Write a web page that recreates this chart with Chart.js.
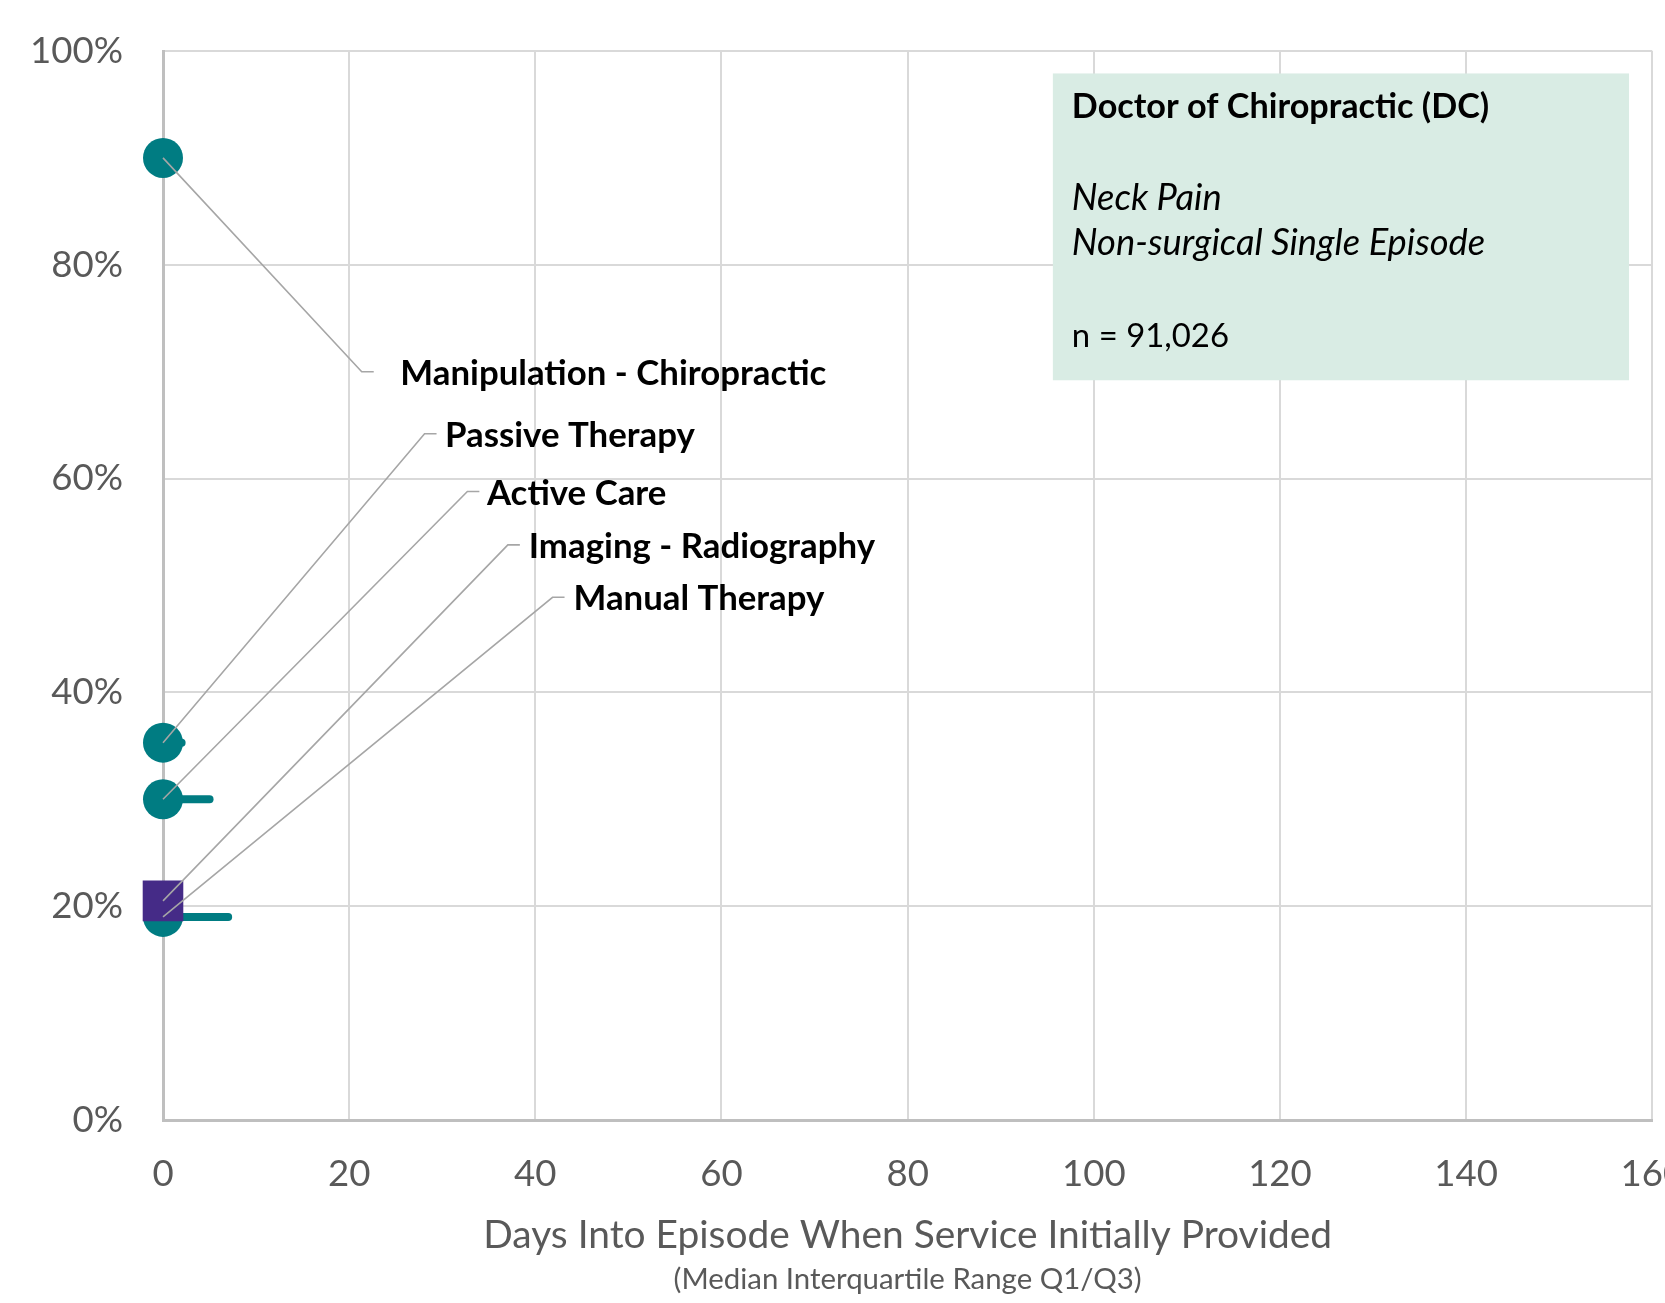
<!DOCTYPE html>
<html>
<head>
<meta charset="utf-8">
<script src="https://cdn.jsdelivr.net/npm/chart.js@4.4.1/dist/chart.umd.min.js"></script>
<style>
  html, body { margin: 0; padding: 0; background: #fff; overflow: hidden; }
  /* a bit wider than the window so the last x label is cut off like the original */
  #wrap { width: 1681px; height: 1303px; position: relative; }
</style>
</head>
<body>
<div id="wrap"><canvas id="chart"></canvas></div>
<script>
// services, top label to bottom label
const services = ['Manipulation - Chiropractic', 'Passive Therapy', 'Active Care', 'Imaging - Radiography', 'Manual Therapy'];
// % of episodes using the service
const pctUsing = [90, 35.3, 30, 20.5, 19];
// days into episode when first provided (median, Q1, Q3)
const medianDay = [0, 0, 0, 0, 0];
const q1Day = [0, 0, 0, 0, 0];
const q3Day = [0, 2, 5, 0, 7];
const markerShape = ['circle', 'circle', 'circle', 'rect', 'circle'];

const xTicks = [0, 20, 40, 60, 80, 100, 120, 140, 160];
const yTicks = [0, 20, 40, 60, 80, 100];

// callouts: leader elbow and text start, in data units
const calloutX = [21.35, 28.1, 32.7, 37.05, 41.85];
const calloutY = [70.0, 64.2, 58.8, 53.8, 48.9];
const calloutTextX = [25.5, 30.3, 34.8, 39.3, 44.1];

const boxTitle = 'Doctor of Chiropractic (DC)';
const boxLines = ['Neck Pain', 'Non-surgical Single Episode'];
const boxCount = 'n = 91,026';
const xTitle = 'Days Into Episode When Service Initially Provided';
const xSubtitle = '(Median Interquartile Range Q1/Q3)';

const TEAL = '#007c82';
const PURPLE = '#452b87';
const GREY_TEXT = '#595959';
const FONT = 'Lato';

// pick font sizes so text widths match the original
const mctx = document.createElement('canvas').getContext('2d');
function fitSize(text, style, target) {
  mctx.font = style + ' 100px ' + FONT;
  return Math.round(1000 * target / mctx.measureText(text).width) / 10;
}
const tickSize = fitSize('100%', '', 93);
const titleSize = fitSize(xTitle, '', 850);
const subSize = fitSize(xSubtitle, '', 469);
const calloutSize = fitSize(services[0], 'bold', 426);
const boxBoldSize = fitSize(boxTitle, 'bold', 417);
const boxItalicSize = fitSize(boxLines[1], 'italic', 413);
const boxPlainSize = fitSize(boxCount, '', 157);

const H = 1303, PLOT_BOTTOM = 1120;
const subPadB = H - 1280 - 0.6 * subSize;
const subH = 1.2 * subSize + subPadB;
const titlePadB = (H - subH) - 1235 - 0.6 * titleSize;
const xTickPad = 1174 - PLOT_BOTTOM - 0.6 * tickSize;

// datasets
const iqrSets = [];
services.forEach((s, i) => {
  if (q3Day[i] > q1Day[i]) {
    iqrSets.push({
      label: s + ' IQR',
      data: [{ x: q1Day[i], y: pctUsing[i] }, { x: q3Day[i], y: pctUsing[i] }],
      showLine: true,
      borderColor: TEAL,
      borderWidth: 8,
      borderCapStyle: 'round',
      pointRadius: 0,
      clip: false,
      order: 3
    });
  }
});
const pts = shape => services.map((s, i) => i).filter(i => markerShape[i] === shape)
  .map(i => ({ x: medianDay[i], y: pctUsing[i] }));

const circleSet = {
  label: 'circle', data: pts('circle'), pointStyle: 'circle', pointRadius: 20,
  backgroundColor: TEAL, borderWidth: 0, clip: false, order: 2
};
const squareSet = {
  label: 'rect', data: pts('rect'), pointStyle: 'rect', pointRadius: 28.7,
  backgroundColor: PURPLE, borderWidth: 0, clip: false, order: 1
};

// info box behind the marks
const infoBox = {
  id: 'infoBox',
  beforeDatasetsDraw(chart) {
    const { ctx, scales: { x, y } } = chart;
    const l = x.getPixelForValue(95.6), r = x.getPixelForValue(157.5);
    const t = y.getPixelForValue(97.9), b = y.getPixelForValue(69.2);
    ctx.save();
    ctx.fillStyle = '#d9ece4';
    ctx.fillRect(l, t, r - l, b - t);
    ctx.fillStyle = '#000';
    ctx.textBaseline = 'middle';
    ctx.textAlign = 'left';
    const tx = l + 19;
    ctx.font = 'bold ' + boxBoldSize + 'px ' + FONT;
    ctx.fillText(boxTitle, tx, t + 34);
    ctx.font = 'italic ' + boxItalicSize + 'px ' + FONT;
    ctx.fillText(boxLines[0], tx, t + 125);
    ctx.fillText(boxLines[1], tx, t + 170);
    ctx.font = boxPlainSize + 'px ' + FONT;
    ctx.fillText(boxCount, tx, t + 263);
    ctx.restore();
  }
};

// leader lines and labels on top of the marks
const callouts = {
  id: 'callouts',
  afterDatasetsDraw(chart) {
    const { ctx, scales: { x, y } } = chart;
    ctx.save();
    ctx.strokeStyle = '#a6a6a6';
    ctx.lineWidth = 1.6;
    services.forEach((s, i) => {
      const ex = x.getPixelForValue(calloutX[i]), ey = y.getPixelForValue(calloutY[i]);
      ctx.beginPath();
      ctx.moveTo(x.getPixelForValue(medianDay[i]), y.getPixelForValue(pctUsing[i]));
      ctx.lineTo(ex, ey);
      ctx.lineTo(ex + 12, ey);
      ctx.stroke();
    });
    ctx.fillStyle = '#000';
    ctx.font = 'bold ' + calloutSize + 'px ' + FONT;
    ctx.textBaseline = 'middle';
    ctx.textAlign = 'left';
    services.forEach((s, i) => {
      ctx.fillText(s, x.getPixelForValue(calloutTextX[i]), y.getPixelForValue(calloutY[i]) + 2);
    });
    ctx.restore();
  }
};

new Chart(document.getElementById('chart'), {
  type: 'scatter',
  data: { datasets: [squareSet, circleSet, ...iqrSets] },
  plugins: [infoBox, callouts],
  options: {
    responsive: true,
    maintainAspectRatio: false,
    devicePixelRatio: 1,
    animation: false,
    events: [],
    layout: { padding: { left: 0, right: 14, top: 51, bottom: 0 } },
    plugins: {
      legend: { display: false },
      tooltip: { enabled: false },
      subtitle: {
        display: true,
        position: 'bottom',
        fullSize: false,
        text: xSubtitle,
        color: GREY_TEXT,
        font: { family: FONT, size: subSize, weight: 'normal', lineHeight: 1.2 },
        padding: { top: 0, bottom: subPadB }
      }
    },
    scales: {
      x: {
        type: 'linear',
        min: 0,
        max: 160,
        afterBuildTicks: s => { s.ticks = xTicks.map(v => ({ value: v })); },
        afterFit: s => { s.height = H - PLOT_BOTTOM - subH; s.paddingLeft = 0; s.paddingRight = 0; },
        grid: { color: '#d9d9d9', lineWidth: 2, drawTicks: false },
        border: { color: '#bfbfbf', width: 3 },
        ticks: {
          padding: xTickPad,
          color: GREY_TEXT,
          maxRotation: 0,
          autoSkip: false,
          font: { family: FONT, size: tickSize, lineHeight: 1.2 }
        },
        title: {
          display: true,
          text: xTitle,
          color: GREY_TEXT,
          font: { family: FONT, size: titleSize, lineHeight: 1.2 },
          padding: { top: 0, bottom: titlePadB }
        }
      },
      y: {
        type: 'linear',
        min: 0,
        max: 100,
        afterBuildTicks: s => { s.ticks = yTicks.map(v => ({ value: v })); },
        afterFit: s => { s.width = 163; s.paddingTop = 0; s.paddingBottom = 0; },
        grid: { color: '#d9d9d9', lineWidth: 2, drawTicks: false },
        border: { color: '#bfbfbf', width: 3 },
        ticks: {
          padding: 40,
          color: GREY_TEXT,
          font: { family: FONT, size: tickSize, lineHeight: 1.2 },
          callback: v => v + '%'
        }
      }
    }
  }
});
</script>
</body>
</html>
